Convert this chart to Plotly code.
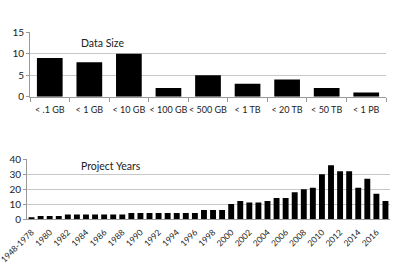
import plotly.graph_objects as go

size_cats = ["< .1 GB", "< 1 GB", "< 10 GB", "< 100 GB", "< 500 GB", "< 1 TB", "< 20 TB", "< 50 TB", "< 1 PB"]
size_vals = [9, 8, 10, 2, 5, 3, 4, 2, 1]

year_cats = ["1948-1978"] + [str(y) for y in range(1979, 2018)]
year_vals = [1, 2, 2, 2, 3, 3, 3, 3, 3, 3, 3, 4, 4, 4, 4, 4, 4, 4, 4,
             6, 6, 6, 10, 12, 11, 11, 12, 14, 14, 18, 20, 21, 30, 36, 32, 32, 21, 27, 17, 12]
year_ticks = year_cats[0::2]

FONT = "Lato"
fig = go.Figure()
fig.add_trace(go.Bar(x=size_cats, y=size_vals, marker=dict(color="black", line=dict(width=0)),
                     xaxis="x", yaxis="y"))
fig.add_trace(go.Bar(x=year_cats, y=year_vals, marker=dict(color="black", line=dict(width=0)),
                     xaxis="x2", yaxis="y2"))

W, H = 394, 274
def px(x): return x / W
def py(y): return 1 - y / H

grid = "#c8c8c8"
fig.update_layout(
    width=W, height=H, margin=dict(l=0, r=0, t=0, b=0),
    paper_bgcolor="white", plot_bgcolor="white", showlegend=False,
    bargap=0.35,
    font=dict(family=FONT, size=10, color="#222"),
    xaxis=dict(domain=[px(30), px(386)], anchor="y", type="category", showline=True, linecolor="#999",
               ticks="outside", tickson="boundaries", ticklen=4, tickcolor="#999", tickangle=0,
               tickfont=dict(size=9), ticklabelstandoff=4, automargin=False),
    yaxis=dict(domain=[py(96.7), py(32.3)], anchor="x", range=[0, 15], tickvals=[0, 5, 10, 15],
               showgrid=True, gridcolor=grid, showline=True, linecolor="#999", ticks="outside",
               ticklen=3, tickcolor="#999", tickfont=dict(size=10), automargin=False, zeroline=False),
    xaxis2=dict(domain=[px(27), px(390)], anchor="y2", type="category", showline=True, linecolor="#999",
                tickvals=year_ticks, tickangle=-45, tickfont=dict(size=8.5), ticklabelstandoff=4,
                automargin=False, ticks=""),
    yaxis2=dict(domain=[py(219), py(159.3)], anchor="x2", range=[0, 40], tickvals=[0, 10, 20, 30, 40],
                showgrid=True, gridcolor=grid, showline=True, linecolor="#999", ticks="outside",
                ticklen=3, tickcolor="#999", tickfont=dict(size=10), automargin=False, zeroline=False),
    annotations=[
        dict(text="Data Size", x=px(102), y=py(43), xref="paper", yref="paper", showarrow=False,
             xanchor="center", yanchor="middle", font=dict(size=10.5)),
        dict(text="Project Years", x=px(111), y=py(166), xref="paper", yref="paper", showarrow=False,
             xanchor="center", yanchor="middle", font=dict(size=10.5)),
    ],
)
fig.update_traces(selector=dict(xaxis="x2"), width=0.65)
fig.write_html("out.html")
